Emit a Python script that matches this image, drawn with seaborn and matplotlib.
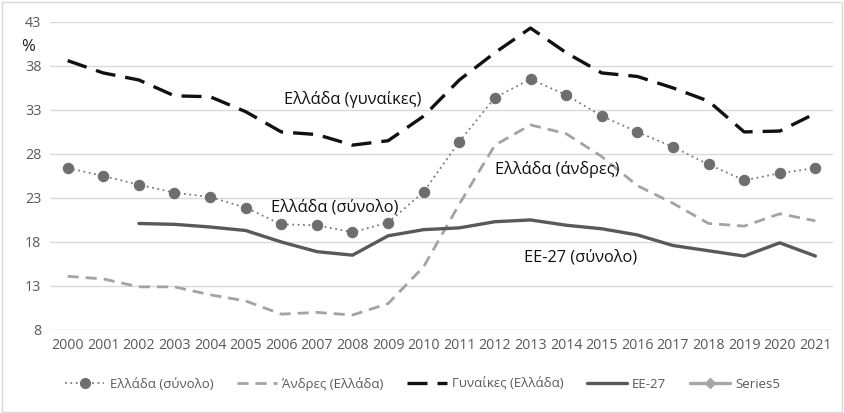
import matplotlib
matplotlib.use("Agg")
import matplotlib.pyplot as plt
from matplotlib.lines import Line2D
import seaborn as sns
import numpy as np
import pandas as pd

years = [str(y) for y in range(2000, 2022)]
total_gr = [26.4, 25.5, 24.5, 23.6, 23.1, 21.9, 20.0, 19.9, 19.1, 20.2, 23.7,
            29.4, 34.4, 36.5, 34.7, 32.3, 30.5, 28.8, 26.8, 25.0, 25.8, 26.4]
men_gr = [14.1, 13.8, 12.9, 12.9, 12.0, 11.3, 9.8, 10.0, 9.7, 11.0, 15.2,
          22.3, 29.0, 31.3, 30.3, 27.7, 24.4, 22.4, 20.1, 19.8, 21.2, 20.4]
women_gr = [38.6, 37.2, 36.4, 34.6, 34.5, 32.8, 30.5, 30.2, 29.0, 29.5, 32.3,
            36.4, 39.5, 42.3, 39.5, 37.2, 36.8, 35.5, 34.0, 30.5, 30.6, 32.6]
eu27 = [np.nan, np.nan, 20.1, 20.0, 19.7, 19.3, 18.0, 16.9, 16.5, 18.7, 19.4,
        19.6, 20.3, 20.5, 19.9, 19.5, 18.8, 17.6, 17.0, 16.4, 17.9, 16.4]
legend_labels = ["Ελλάδα (σύνολο)", "Άνδρες (Ελλάδα)", "Γυναίκες (Ελλάδα)", "ΕΕ-27", "Series5"]
yticks = [8, 13, 18, 23, 28, 33, 38, 43]

sns.set_theme(style="white")
plt.rcParams['font.family'] = ['Open Sans', 'DejaVu Sans']

fig = plt.figure(figsize=(8.45, 4.13), dpi=100)
ax = fig.add_axes([0.059, 0.201, 0.927, 0.746])

x = np.arange(len(years))
df = pd.DataFrame({"x": x, "total": total_gr, "men": men_gr, "women": women_gr, "eu": eu27})

sns.lineplot(data=df, x="x", y="men", ax=ax, color="#a3a3a3", linewidth=2,
             linestyle=(0, (4, 2.5)))
sns.lineplot(data=df, x="x", y="women", ax=ax, color="#111111", linewidth=2.4,
             linestyle=(0, (6, 3)))
sns.lineplot(data=df, x="x", y="eu", ax=ax, color="#595959", linewidth=2.4)
sns.lineplot(data=df, x="x", y="total", ax=ax, color="#7a7a7a", linewidth=1.3,
             linestyle=(0, (1, 2)), marker="o", markersize=7.5,
             markerfacecolor="#6e6e6e", markeredgecolor="#6e6e6e")

ax.set_xlim(-0.5, len(years) - 0.5)
ax.set_ylim(8, 43)
ax.set_yticks(yticks)
ax.set_yticklabels([str(t) for t in yticks])
ax.set_xticks(x)
ax.set_xticklabels(years)
ax.tick_params(axis="both", colors="#595959", labelsize=10.3, length=0, pad=6)
ax.set_xlabel("")
ax.set_ylabel("")
ax.yaxis.grid(True, color="#d9d9d9", linewidth=1)
for s in ax.spines.values():
    s.set_visible(False)

ax.text(-1.3, 40.2, "%", fontsize=12, color="#222222", ha="left", va="center")

lab_kw = dict(fontsize=11.8, color="#111111", ha="center", va="center")
ax.text(8.0, 34.2, "Ελλάδα (γυναίκες)", **lab_kw)
ax.text(13.75, 26.2, "Ελλάδα (άνδρες)", **lab_kw)
ax.text(7.5, 21.9, "Ελλάδα (σύνολο)", **lab_kw)
ax.text(14.4, 16.2, "ΕΕ-27 (σύνολο)", **lab_kw)

handles = [
    Line2D([], [], color="#7a7a7a", linewidth=1.3, linestyle=(0, (1, 2)), marker="o",
           markersize=7, markerfacecolor="#6e6e6e", markeredgecolor="#6e6e6e"),
    Line2D([], [], color="#a3a3a3", linewidth=2, linestyle=(0, (4, 2.5))),
    Line2D([], [], color="#111111", linewidth=2.4, linestyle=(0, (6, 3))),
    Line2D([], [], color="#595959", linewidth=2.4),
    Line2D([], [], color="#a6a6a6", linewidth=2.4, marker="D", markersize=5,
           markerfacecolor="#a6a6a6", markeredgecolor="#a6a6a6"),
]
fig.legend(handles, legend_labels, loc="center", bbox_to_anchor=(0.5, 0.07), ncol=5,
           frameon=False, fontsize=9.5, labelcolor="#595959", handlelength=3.0,
           columnspacing=1.8, handletextpad=0.4)

border = plt.Rectangle((0.002, 0.003), 0.995, 0.993, transform=fig.transFigure,
                       fill=False, edgecolor="#d9d9d9", linewidth=1)
fig.patches.append(border)

fig.savefig("out.png", dpi=100)
